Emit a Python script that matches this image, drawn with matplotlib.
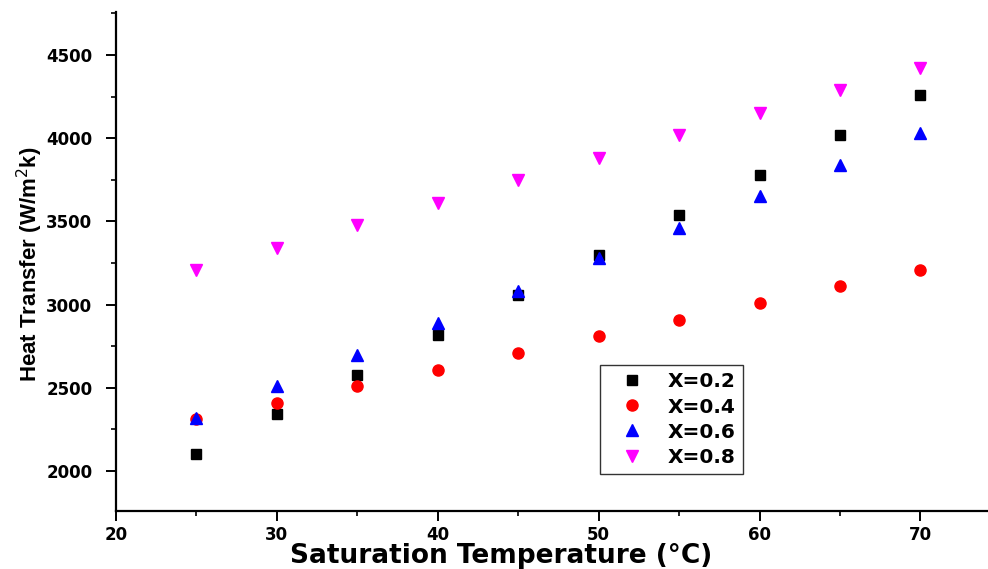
import matplotlib

matplotlib.use("Agg")
import matplotlib.pyplot as plt

plt.rcParams["font.family"] = ["DejaVu Sans"]

temps = [25, 30, 35, 40, 45, 50, 55, 60, 65, 70]
x02 = [2100, 2340, 2580, 2820, 3060, 3300, 3540, 3780, 4020, 4260]
x04 = [2310, 2410, 2510, 2610, 2710, 2810, 2910, 3010, 3110, 3210]
x06 = [2320, 2510, 2700, 2890, 3080, 3280, 3460, 3650, 3840, 4030]
x08 = [3210, 3340, 3480, 3610, 3750, 3880, 4020, 4150, 4290, 4420]

fig = plt.figure(figsize=(9.88, 5.69), dpi=100)
ax = fig.add_axes([0.1174, 0.1019, 0.8826, 0.877])

ax.plot(temps, x02, "s", color="black", markersize=7, label="X=0.2", linestyle="none")
ax.plot(temps, x04, "o", color="red", markersize=8, label="X=0.4", linestyle="none")
ax.plot(temps, x06, "^", color="blue", markersize=9, label="X=0.6", linestyle="none")
ax.plot(temps, x08, "v", color="magenta", markersize=9, label="X=0.8", linestyle="none")

ax.set_xlim(20, 74.2)
ax.set_ylim(1760, 4758)
ax.set_xticks(range(20, 71, 10))
ax.set_xticks(range(25, 71, 10), minor=True)
ax.set_yticks(range(2000, 4501, 500))
ax.set_yticks(range(2250, 4751, 500), minor=True)

for side in ["top", "right"]:
    ax.spines[side].set_visible(False)
for side in ["left", "bottom"]:
    ax.spines[side].set_linewidth(1.6)

ax.tick_params(which="major", direction="out", length=7, width=1.4, labelsize=12)
ax.tick_params(axis="x", which="major", pad=4)
ax.tick_params(axis="y", which="major", pad=10)
ax.tick_params(which="minor", direction="out", length=3.5, width=1.2)
for lab in ax.get_xticklabels() + ax.get_yticklabels():
    lab.set_fontweight("bold")

ax.set_xlabel("Saturation Temperature (°C)", fontsize=19, fontweight="bold", va="center")
ax.xaxis.set_label_coords(0.4415, -0.09)
ax.set_ylabel("Heat Transfer (W/m$^2$k)", fontsize=16, fontweight="bold",
              family="Liberation Sans", va="center")
ax.yaxis.set_label_coords(-0.0986, 0.495)

leg = ax.legend(loc="upper left", bbox_to_anchor=(0.555, 0.2926),
                prop={"weight": "bold", "size": 14.5},
                frameon=True, fancybox=False, edgecolor="black",
                handlelength=2.4, handletextpad=0.6,
                borderpad=0.37, labelspacing=0.3, borderaxespad=0)
leg.get_frame().set_linewidth(1.0)

fig.savefig("out.png", dpi=100)
